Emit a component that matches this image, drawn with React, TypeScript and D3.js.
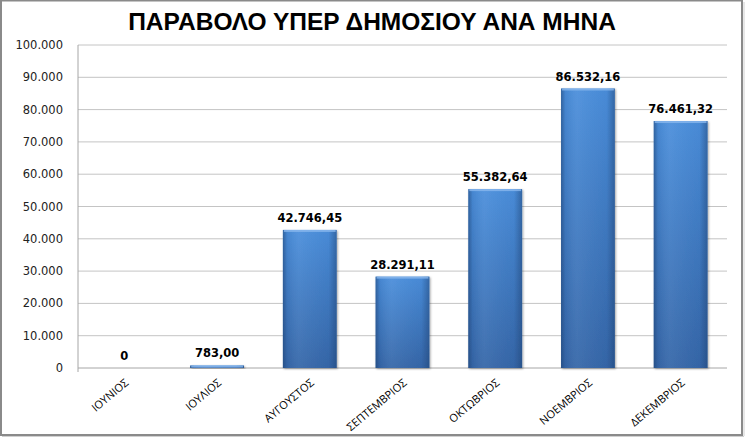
import React from "react";
import * as d3 from "d3";

const title = "ΠΑΡΑΒΟΛΟ ΥΠΕΡ ΔΗΜΟΣΙΟΥ ΑΝΑ ΜΗΝΑ";
const months = ["ΙΟΥΝΙΟΣ", "ΙΟΥΛΙΟΣ", "ΑΥΓΟΥΣΤΟΣ", "ΣΕΠΤΕΜΒΡΙΟΣ", "ΟΚΤΩΒΡΙΟΣ", "ΝΟΕΜΒΡΙΟΣ", "ΔΕΚΕΜΒΡΙΟΣ"];
const amounts = [0, 783.0, 42746.45, 28291.11, 55382.64, 86532.16, 76461.32];
const yTicks = [0, 10000, 20000, 30000, 40000, 50000, 60000, 70000, 80000, 90000, 100000];

const W = 745;
const H = 437;
const left = 78;
const right = 727;
const top = 45;
const bottom = 368;

const grLocale = d3.formatLocale({
  decimal: ",",
  thousands: ".",
  grouping: [3],
  currency: ["€", ""],
});
const fmtTick = grLocale.format(",.0f");
const fmtVal = grLocale.format(",.2f");

export default function App() {
  const x = d3.scaleBand<string>().domain(months).range([left, right]).paddingInner(0.42).paddingOuter(0.21);
  const y = d3.scaleLinear().domain([0, 100000]).range([bottom, top]);

  return (
    <svg
      width={W}
      height={H}
      style={{ position: "absolute", left: 0, top: 0, background: "#fff" }}
      xmlns="http://www.w3.org/2000/svg"
    >
      <defs>
        <linearGradient id="barV" x1="0" y1="0" x2="0" y2="1">
          <stop offset="0" stopColor="#4a8edb" />
          <stop offset="1" stopColor="#3566a8" />
        </linearGradient>
        <linearGradient id="barH" x1="0" y1="0" x2="1" y2="0">
          <stop offset="0" stopColor="#1d3f6e" stopOpacity="0.55" />
          <stop offset="0.08" stopColor="#1d3f6e" stopOpacity="0.1" />
          <stop offset="0.3" stopColor="#ffffff" stopOpacity="0.06" />
          <stop offset="0.85" stopColor="#1d3f6e" stopOpacity="0.05" />
          <stop offset="1" stopColor="#1d3f6e" stopOpacity="0.5" />
        </linearGradient>
        <filter id="shadow" x="-20%" y="-20%" width="140%" height="140%">
          <feDropShadow dx="1" dy="1" stdDeviation="1" floodColor="#000" floodOpacity="0.35" />
        </filter>
      </defs>

      {/* outer frame */}
      <rect x={1} y={0.5} width={741} height={434.5} fill="#fff" stroke="#8a8a8a" strokeWidth={2} />
      <line x1={744} y1={2} x2={744} y2={436} stroke="#d0d0d0" strokeWidth={1} />
      <line x1={2} y1={436.5} x2={744} y2={436.5} stroke="#d0d0d0" strokeWidth={1} />

      {/* title */}
      <text
        x={372}
        y={30}
        textAnchor="middle"
        fontFamily="'Liberation Sans', Arial, sans-serif"
        fontWeight="bold"
        fontSize={24.5}
        fill="#000"
      >
        {title}
      </text>

      {/* gridlines */}
      {yTicks.map((t) => (
        <line
          key={"g" + t}
          x1={left}
          x2={right}
          y1={y(t)}
          y2={y(t)}
          stroke={t === 0 ? "#a6a6a6" : "#c4c4c4"}
          strokeWidth={1}
        />
      ))}
      <line x1={left} x2={left} y1={top} y2={bottom + 4} stroke="#a6a6a6" strokeWidth={1} />

      {/* y tick labels */}
      {yTicks.map((t) => (
        <text
          key={"t" + t}
          x={63}
          y={y(t) + 4}
          textAnchor="end"
          fontFamily="'DejaVu Sans', Verdana, sans-serif"
          fontSize={11.5}
          fill="#222"
        >
          {fmtTick(t)}
        </text>
      ))}

      {/* bars */}
      {months.map((m, i) => {
        const v = amounts[i];
        if (v <= 0) return null;
        const bx = x(m)!;
        const bw = x.bandwidth();
        const by = y(v);
        const bh = Math.max(y(0) - by, 2);
        return (
          <g key={"b" + m} filter="url(#shadow)">
            <rect x={bx} y={y(0) - bh} width={bw} height={bh} fill="url(#barV)" />
            <rect x={bx} y={y(0) - bh} width={bw} height={bh} fill="url(#barH)" />
            <rect x={bx + 1} y={y(0) - bh} width={bw - 2} height={Math.min(2, bh)} fill="#8ab8ee" opacity={0.8} />
          </g>
        );
      })}

      {/* value labels */}
      {months.map((m, i) => (
        <text
          key={"v" + m}
          x={x(m)! + x.bandwidth() / 2}
          y={y(amounts[i]) - 8}
          textAnchor="middle"
          fontFamily="'DejaVu Sans', Verdana, sans-serif"
          fontWeight="bold"
          fontSize={11.5}
          fill="#000"
        >
          {amounts[i] === 0 ? "0" : fmtVal(amounts[i])}
        </text>
      ))}

      {/* x labels */}
      {months.map((m) => {
        const cx = x(m)! + x.bandwidth() / 2;
        return (
          <text
            key={"x" + m}
            transform={`translate(${cx + 5},${bottom + 16}) rotate(-40)`}
            textAnchor="end"
            fontFamily="'Open Sans', 'Noto Sans', sans-serif"
            fontSize={11}
            fill="#000"
          >
            {m}
          </text>
        );
      })}
    </svg>
  );
}
